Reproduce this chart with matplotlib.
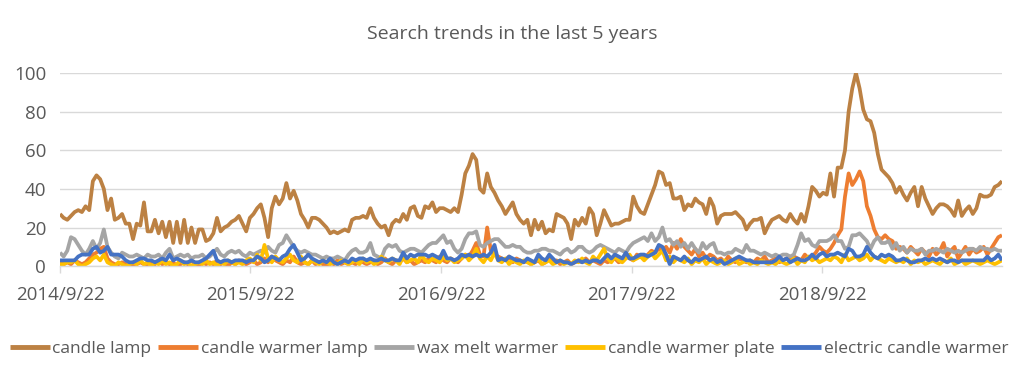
import numpy as np
import pandas as pd
import matplotlib
matplotlib.use("Agg")
import matplotlib.pyplot as plt

plt.rcParams['font.family'] = ['Open Sans', 'DejaVu Sans']

# weekly samples, first week 2014/9/22
start_date = "2014-09-22"

candle_lamp = [
    27, 25, 24, 26, 28, 29, 28, 31, 29, 44,
    47, 45, 40, 29, 35, 24, 25, 27, 22, 22,
    14, 22, 21, 33, 18, 18, 24, 17, 23, 15,
    23, 12, 23, 12, 24, 12, 20, 12, 19, 19,
    13, 14, 17, 25, 18, 20, 21, 23, 24, 26,
    22, 18, 25, 27, 30, 32, 25, 15, 30, 36,
    32, 35, 43, 35, 39, 34, 27, 24, 20, 25,
    25, 24, 22, 20, 17, 18, 17, 18, 19, 18,
    24, 25, 25, 26, 25, 30, 25, 22, 20, 21,
    16, 22, 24, 23, 27, 24, 30, 31, 26, 25,
    31, 30, 33, 28, 30, 30, 29, 28, 30, 28,
    37, 48, 52, 58, 55, 40, 38, 48, 41, 38,
    34, 31, 27, 30, 33, 27, 24, 22, 24, 16,
    24, 19, 23, 17, 19, 18, 27, 26, 25, 22,
    14, 24, 21, 25, 22, 30, 27, 16, 22, 29,
    25, 21, 22, 22, 23, 24, 24, 36, 31, 28,
    27, 32, 37, 42, 49, 48, 42, 43, 35, 35,
    36, 29, 32, 31, 35, 33, 32, 27, 35, 31,
    22, 26, 27, 27, 27, 28, 26, 24, 19, 22,
    24, 24, 25, 17, 21, 24, 25, 26, 24, 23,
    27, 24, 22, 27, 23, 31, 41, 39, 36, 38,
    37, 48, 36, 51, 51, 60, 80, 92, 100, 92,
    81, 76, 75, 69, 58, 50, 48, 46, 43, 38,
    41, 37, 34, 38, 41, 31, 41, 35, 31, 27,
    30, 32, 32, 31, 29, 26, 34, 26, 29, 31,
    27, 30, 37, 36, 36, 37, 41, 42, 44,
]

candle_warmer_lamp = [
    2, 1, 2, 1, 3, 2, 1, 2, 4, 6,
    7, 9, 10, 4, 2, 1, 1, 2, 1, 1,
    0, 1, 2, 1, 0, 2, 1, 3, 1, 2,
    1, 2, 0, 1, 2, 1, 3, 1, 0, 2,
    1, 2, 1, 3, 1, 2, 0, 2, 1, 3,
    2, 1, 2, 3, 1, 2, 4, 2, 5, 3,
    2, 1, 3, 2, 5, 2, 1, 2, 1, 3,
    1, 2, 1, 0, 2, 1, 3, 1, 2, 1,
    2, 1, 3, 2, 1, 2, 3, 1, 2, 4,
    2, 1, 3, 2, 4, 2, 3, 1, 2, 3,
    2, 4, 3, 2, 5, 3, 2, 4, 3, 2,
    4, 6, 5, 8, 12, 6, 5, 20, 8, 6,
    5, 4, 3, 5, 2, 4, 3, 2, 3, 1,
    2, 3, 1, 2, 4, 2, 3, 1, 2, 3,
    1, 2, 3, 2, 4, 2, 3, 2, 1, 3,
    2, 3, 4, 2, 3, 5, 4, 3, 6, 5,
    4, 6, 8, 7, 9, 8, 10, 7, 12, 9,
    14, 10, 8, 6, 9, 5, 7, 4, 6, 5,
    3, 4, 2, 5, 3, 2, 4, 3, 2, 3,
    2, 4, 3, 5, 2, 3, 4, 2, 3, 4,
    3, 5, 4, 3, 6, 4, 5, 7, 10, 8,
    7, 9, 12, 16, 19, 36, 48, 42, 45, 49,
    44, 31, 26, 19, 15, 14, 16, 14, 13, 9,
    10, 9, 7, 10, 8, 6, 9, 7, 5, 9,
    6, 8, 12, 5, 8, 10, 4, 7, 10, 6,
    9, 7, 8, 10, 6, 9, 12, 15, 16,
]

wax_melt_warmer = [
    7, 5, 8, 15, 14, 11, 8, 6, 9, 13,
    9, 12, 19, 10, 7, 5, 4, 7, 6, 5,
    5, 6, 5, 4, 6, 5, 5, 6, 4, 7,
    9, 4, 5, 6, 5, 6, 4, 5, 5, 6,
    4, 5, 7, 9, 6, 5, 7, 8, 7, 8,
    6, 5, 7, 6, 7, 8, 7, 10, 8, 7,
    11, 12, 16, 13, 10, 8, 7, 8, 7, 6,
    6, 5, 4, 5, 4, 4, 5, 4, 3, 6,
    8, 9, 7, 7, 8, 12, 6, 5, 4, 9,
    11, 10, 11, 8, 7, 8, 9, 9, 8, 7,
    9, 11, 12, 12, 14, 16, 12, 13, 9, 7,
    9, 14, 17, 17, 18, 11, 10, 12, 13, 14,
    14, 12, 10, 10, 11, 10, 10, 8, 7, 7,
    8, 8, 9, 9, 8, 8, 7, 6, 8, 9,
    7, 8, 10, 10, 8, 7, 8, 10, 11, 10,
    9, 8, 7, 9, 8, 7, 10, 12, 13, 14,
    15, 13, 17, 13, 15, 20, 13, 14, 11, 13,
    10, 12, 9, 12, 9, 7, 12, 9, 11, 12,
    7, 7, 6, 7, 7, 9, 8, 7, 11, 8,
    8, 7, 6, 7, 6, 5, 6, 5, 6, 6,
    5, 6, 11, 17, 13, 14, 11, 10, 13, 13,
    13, 14, 16, 13, 13, 9, 10, 16, 16, 17,
    15, 13, 9, 13, 15, 12, 12, 13, 9, 12,
    8, 10, 7, 9, 8, 8, 9, 6, 8, 8,
    9, 8, 7, 9, 8, 7, 8, 7, 8, 9,
    9, 8, 10, 9, 9, 8, 9, 8, 8,
]

candle_warmer_plate = [
    1, 1, 2, 2, 3, 1, 0, 1, 2, 4,
    5, 3, 6, 2, 1, 0, 2, 1, 0, 1,
    2, 1, 3, 1, 2, 0, 2, 1, 3, 1,
    2, 0, 1, 3, 1, 2, 0, 1, 2, 1,
    3, 1, 2, 0, 2, 1, 3, 2, 1, 2,
    1, 3, 4, 2, 6, 3, 11, 4, 2, 5,
    3, 2, 4, 6, 3, 2, 5, 2, 1, 3,
    2, 1, 3, 2, 1, 2, 1, 3, 2, 1,
    2, 3, 1, 4, 2, 3, 1, 2, 5, 3,
    2, 4, 3, 1, 5, 2, 3, 4, 2, 6,
    3, 2, 4, 3, 2, 5, 3, 4, 2, 3,
    4, 6, 3, 5, 9, 4, 2, 5, 3, 7,
    3, 2, 4, 1, 3, 2, 1, 3, 2, 1,
    2, 4, 1, 2, 3, 1, 2, 3, 1, 2,
    1, 3, 2, 4, 2, 1, 5, 3, 6, 9,
    4, 2, 5, 3, 2, 4, 6, 3, 4, 5,
    3, 5, 7, 4, 6, 8, 3, 5, 2, 4,
    3, 2, 4, 1, 3, 2, 4, 1, 3, 2,
    1, 2, 3, 1, 2, 4, 1, 2, 3, 1,
    2, 1, 3, 2, 1, 2, 1, 3, 2, 1,
    2, 4, 1, 3, 2, 5, 3, 4, 2, 3,
    4, 3, 5, 4, 2, 6, 3, 4, 5, 3,
    4, 6, 3, 5, 4, 3, 2, 4, 3, 2,
    3, 2, 4, 1, 3, 2, 3, 1, 2, 3,
    2, 1, 3, 2, 4, 1, 2, 3, 1, 2,
    3, 2, 1, 2, 3, 2, 1, 2, 3,
]

electric_candle_warmer = [
    3, 3, 3, 3, 3, 5, 6, 6, 6, 9,
    10, 7, 8, 10, 6, 6, 6, 5, 3, 2,
    2, 3, 4, 4, 3, 3, 2, 3, 4, 3,
    6, 3, 4, 3, 2, 2, 3, 2, 2, 3,
    4, 6, 8, 3, 2, 3, 3, 2, 3, 3,
    3, 2, 3, 3, 5, 4, 2, 3, 5, 4,
    3, 5, 6, 9, 11, 7, 3, 4, 6, 4,
    3, 2, 3, 2, 4, 2, 1, 2, 3, 2,
    4, 3, 4, 4, 3, 4, 3, 3, 4, 3,
    3, 4, 3, 3, 7, 4, 6, 5, 6, 6,
    6, 5, 6, 5, 4, 8, 4, 4, 3, 4,
    6, 5, 6, 5, 6, 5, 6, 5, 7, 11,
    3, 4, 3, 5, 4, 3, 3, 2, 4, 3,
    2, 6, 4, 3, 6, 4, 2, 3, 2, 2,
    1, 2, 3, 2, 3, 2, 3, 3, 2, 4,
    6, 4, 6, 5, 4, 7, 4, 4, 5, 6,
    6, 5, 6, 7, 11, 10, 6, 1, 5, 4,
    3, 5, 3, 2, 4, 3, 4, 5, 3, 4,
    2, 3, 1, 2, 3, 4, 5, 4, 3, 3,
    2, 2, 2, 2, 2, 2, 3, 5, 3, 4,
    2, 3, 4, 3, 3, 4, 6, 4, 6, 7,
    5, 6, 6, 7, 6, 5, 9, 8, 5, 5,
    6, 10, 7, 5, 4, 6, 5, 6, 5, 3,
    3, 4, 3, 2, 2, 3, 3, 4, 3, 4,
    3, 4, 3, 2, 3, 3, 2, 3, 3, 3,
    3, 3, 3, 3, 5, 3, 4, 6, 3,
]

series_names = ['candle lamp', 'candle warmer lamp', 'wax melt warmer',
                'candle warmer plate', 'electric candle warmer']
series_values = [candle_lamp, candle_warmer_lamp, wax_melt_warmer,
                 candle_warmer_plate, electric_candle_warmer]
colors = ['#BC8143', '#ED7D31', '#A5A5A5', '#FFC000', '#4472C4']

tick_dates = ['2014-09-22', '2015-09-22', '2016-09-22', '2017-09-22', '2018-09-22']
tick_labels = ['2014/9/22', '2015/9/22', '2016/9/22', '2017/9/22', '2018/9/22']

dates = pd.date_range(start_date, periods=len(candle_lamp), freq='7D')

fig = plt.figure(figsize=(10.24, 3.92), dpi=100)
ax = fig.add_axes([0.0586, 0.321, 0.9199, 0.493])

for name, vals, color in zip(series_names, series_values, colors):
    ax.plot(dates, vals, color=color, linewidth=2.7, label=name,
            solid_joinstyle='round', solid_capstyle='butt')

ax.set_ylim(0, 100)
ax.set_xlim(dates[0], dates[-1])
ax.set_yticks([0, 20, 40, 60, 80, 100])
ax.set_xticks(pd.to_datetime(tick_dates))
ax.set_xticklabels(tick_labels)

ax.grid(axis='y', color='#D9D9D9', linewidth=1.0)
ax.set_axisbelow(True)
for side in ['top', 'right', 'left']:
    ax.spines[side].set_visible(False)
ax.spines['bottom'].set_color('#D9D9D9')
ax.spines['bottom'].set_linewidth(1.0)

ax.tick_params(axis='y', length=0, pad=10, labelsize=13.5, labelcolor='#595959')
ax.tick_params(axis='x', length=5, width=1.0, color='#D9D9D9', pad=9,
               labelsize=13.5, labelcolor='#595959')

# title is centred on the whole figure, not on the plot area
fig.text(0.5, 0.913, 'Search trends in the last 5 years', fontsize=14,
         color='#595959', ha='center', va='center')

leg = fig.legend(loc='center', bbox_to_anchor=(0.497, 0.11), ncol=5, frameon=False,
                 fontsize=12.5, handlelength=2.3, handletextpad=0.15, columnspacing=0.4,
                 labelcolor='#595959')
for line in leg.get_lines():
    line.set_linewidth(3.5)

fig.savefig('out.png', dpi=100)
